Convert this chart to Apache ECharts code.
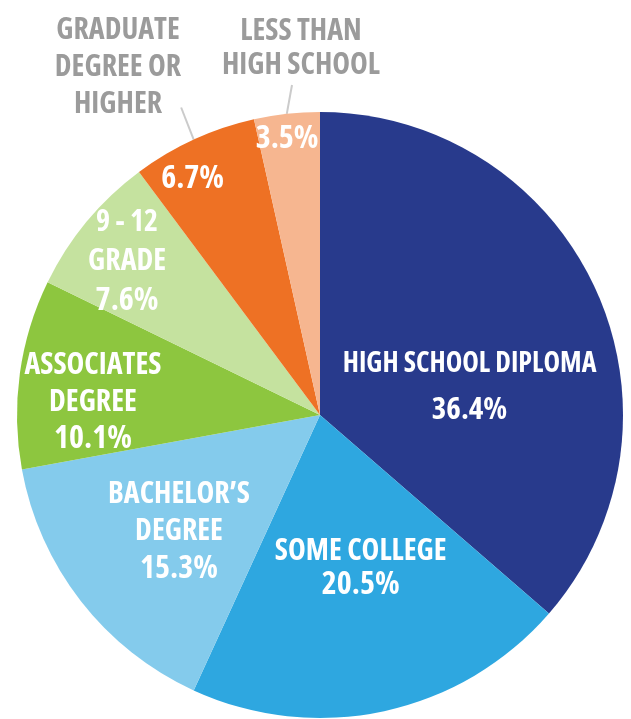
<!DOCTYPE html>
<html>
<head>
<meta charset="utf-8">
<script src="https://cdn.jsdelivr.net/npm/echarts@6/dist/echarts.min.js"></script>
<style>
  html, body { margin: 0; padding: 0; background: #fff; }
  #chart { width: 631px; height: 719px; }
</style>
</head>
<body>
<div id="chart"></div>
<script>
// education levels, clockwise from 12 o'clock
const categories = ['HIGH SCHOOL DIPLOMA', 'SOME COLLEGE', 'BACHELOR\u2019S\nDEGREE', 'ASSOCIATES\nDEGREE', '9 - 12\nGRADE', 'GRADUATE\nDEGREE OR\nHIGHER', 'LESS THAN\nHIGH SCHOOL']
const shares = [36.4, 20.5, 15.3, 10.1, 7.6, 6.7, 3.5]
const colors = ['#283a8c', '#2ea7e0', '#84cbec', '#8dc63f', '#c5e29f', '#ee7124', '#f6b690']

// which slices carry their name inside, the rest get a grey name outside
const nameInside = [true, true, true, true, true, false, false]
const insideOffset = [[9, 36], [8, 2], [-19, 22], [-74, 8], [-74, -55], [-63, -96], [-16, -123]]
const insideLineHeight = [46, 34, 37, 37, 39, 36, 36]
const nameSize = [28, 30, 30, 30, 30, 30, 30]
const pctSize = [31, 32, 32, 32, 32, 32, 32]
// outside name: [x, top, lineHeight, padding] - padding steers where the leader line attaches
const outsidePlace = {
  5: [118, 12, 37, [0, 0, 80, 0]],
  6: [292, 14, 34, [0, 0, 3, 18]]
}

// "bold condensed" ends up in the canvas font string, Open Sans has a width axis
const fontWeight = 'bold condensed'
const font = '"Open Sans", Roboto, sans-serif'

const chart = echarts.init(document.getElementById('chart'))

const innerData = categories.map((name, i) => {
  const lines = nameInside[i] ? name.split('\n').map(s => '{n|' + s + '}') : []
  lines.push('{p|' + shares[i].toFixed(1) + '%}')
  return {
    name: name,
    value: shares[i],
    itemStyle: { color: colors[i] },
    label: {
      offset: insideOffset[i],
      formatter: lines.join('\n'),
      rich: {
        n: { fontSize: nameSize[i], lineHeight: insideLineHeight[i], fontFamily: font, fontWeight: fontWeight, color: '#fff', align: 'center' },
        p: { fontSize: pctSize[i], lineHeight: insideLineHeight[i], fontFamily: font, fontWeight: fontWeight, color: '#fff', align: 'center' }
      }
    }
  }
})

const outerData = categories.map((name, i) => {
  const place = outsidePlace[i]
  return {
    name: name,
    value: shares[i],
    label: place ? { show: true, lineHeight: place[2], padding: place[3] } : { show: false },
    labelLine: { show: !!place }
  }
})

chart.setOption({
  animation: false,
  series: [
    {
      type: 'pie',
      center: [320, 415],
      radius: [0, 303],
      startAngle: 90,
      clockwise: true,
      silent: true,
      avoidLabelOverlap: false,
      itemStyle: { borderWidth: 0 },
      label: {
        position: 'inside',
        color: '#fff',
        fontFamily: font,
        fontWeight: fontWeight,
        fontSize: 30,
        align: 'center',
        overflow: 'none'
      },
      labelLine: { show: false },
      data: innerData
    },
    {
      type: 'pie',
      center: [320, 415],
      radius: [0, 303],
      startAngle: 90,
      clockwise: true,
      silent: true,
      avoidLabelOverlap: false,
      itemStyle: { color: 'rgba(0,0,0,0)' },
      label: {
        position: 'outside',
        color: '#9b9b9b',
        fontFamily: font,
        fontWeight: fontWeight,
        fontSize: 30,
        align: 'center',
        overflow: 'none'
      },
      labelLine: {
        length: 30,
        length2: 0,
        lineStyle: { color: '#cbcbcb', width: 2 }
      },
      labelLayout: function (p) {
        const place = outsidePlace[p.dataIndex]
        if (!place) return {}
        return { x: place[0], y: place[1], align: 'center', verticalAlign: 'top' }
      },
      data: outerData
    }
  ]
})
</script>
</body>
</html>
